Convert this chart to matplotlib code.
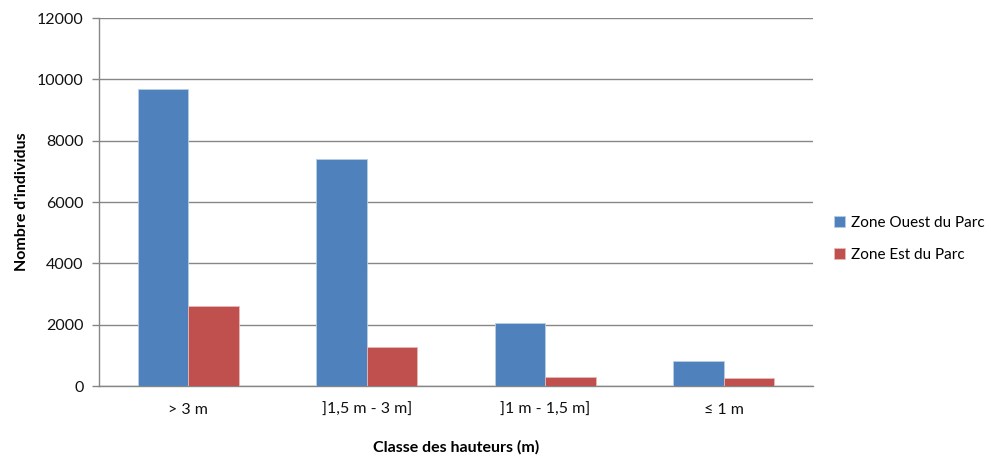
""" Nombre d'individus par classe de hauteur """
import numpy as np
import matplotlib
matplotlib.use("Agg")
import matplotlib.pyplot as plt

classes = ["> 3 m", "]1,5 m - 3 m]", "]1 m - 1,5 m]", "≤ 1 m"]
zone_ouest = [9700, 7410, 2070, 820]
zone_est = [2620, 1270, 305, 275]
series_names = ["Zone Ouest du Parc", "Zone Est du Parc"]


def main():
    """Draw the grouped bars"""
    plt.rcParams["font.family"] = ["Lato", "DejaVu Sans"]
    fig = plt.figure(figsize=(9.91, 4.59), dpi=100)
    ax = fig.add_axes([99 / 991, 73 / 459, 714 / 991, 368 / 459])

    x = np.arange(len(classes))
    width = 0.284
    ax.bar(x - width / 2, zone_ouest, width, color="#4f81bd",
           edgecolor="#b9cde5", linewidth=0.6, label=series_names[0], zorder=3)
    ax.bar(x + width / 2, zone_est, width, color="#c0504d",
           edgecolor="#e6b9b8", linewidth=0.6, label=series_names[1], zorder=3)

    ax.set_xlim(-0.5, len(classes) - 0.5)
    ax.set_ylim(0, 12000)
    ax.set_yticks(range(0, 12001, 2000))
    ax.set_xticks(x)
    ax.set_xticklabels(classes)
    ax.yaxis.grid(True, color="#868686", linewidth=1.0, zorder=0)
    ax.tick_params(axis="x", length=0, pad=12, labelsize=11.5, colors="#111111")
    ax.tick_params(axis="y", length=5, width=1, color="#868686",
                   labelsize=11.5, labelcolor="#111111", pad=6)
    for side in ["top", "right"]:
        ax.spines[side].set_visible(False)
    for side in ["left", "bottom"]:
        ax.spines[side].set_color("#868686")
        ax.spines[side].set_linewidth(1.0)

    ax.set_xlabel("Classe des hauteurs (m)", fontsize=11.5, fontweight="bold",
                  labelpad=17)
    ax.set_ylabel("Nombre d'individus", fontsize=11.5, fontweight="bold",
                  labelpad=6)

    ax.legend(loc="center left", bbox_to_anchor=(1.0, 0.40), frameon=False,
              fontsize=11, handlelength=0.7, handleheight=0.7,
              handletextpad=0.4, labelspacing=1.2, borderaxespad=1.0)

    fig.savefig("out.png", dpi=100)


main()
